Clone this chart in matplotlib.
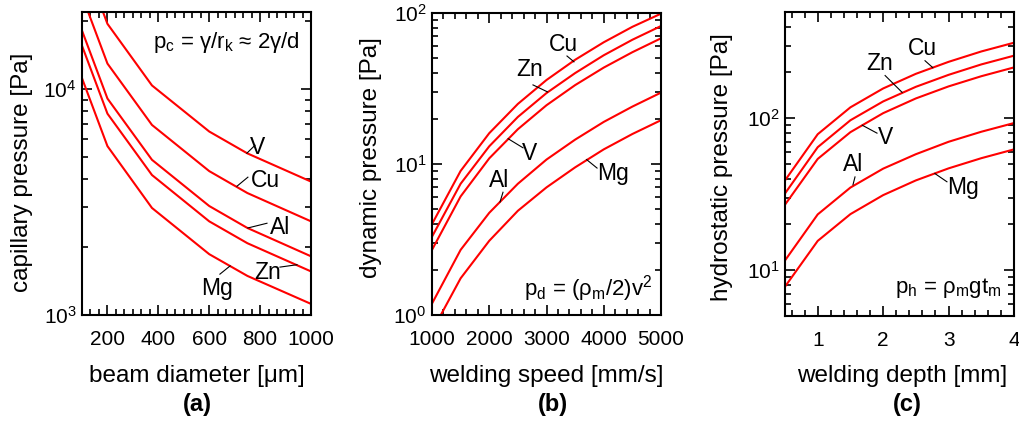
import numpy as np
import matplotlib.pyplot as plt
from matplotlib.ticker import MultipleLocator, NullFormatter, LogLocator

plt.rcParams['font.family'] = ['Liberation Sans', 'DejaVu Sans']
plt.rcParams['mathtext.fontset'] = 'custom'
plt.rcParams['mathtext.rm'] = 'Liberation Sans'

# (a) capillary pressure vs beam diameter
diam = [100, 200, 375, 600, 750, 1000]
cap_V = [39000, 19500, 10400, 6500, 5200, 3900]
cap_Cu = [26000, 13000, 6950, 4340, 3470, 2600]
cap_Al = [18200, 9100, 4870, 3040, 2430, 1820]
cap_Zn = [15600, 7800, 4170, 2600, 2080, 1560]
cap_Mg = [11200, 5600, 2980, 1860, 1490, 1120]

# (b) dynamic pressure vs welding speed
speed = [1000, 1500, 2000, 2500, 3000, 3500, 4000, 4500, 5000]
dyn_Cu = [4.0, 9.0, 16.0, 25.0, 36.0, 49.0, 64.0, 81.0, 99.0]
dyn_Zn = [3.3, 7.4, 13.1, 20.5, 29.5, 40.0, 52.5, 66.5, 82.0]
dyn_V = [2.7, 6.1, 10.9, 17.0, 24.5, 33.3, 43.5, 55.0, 68.0]
dyn_Al = [1.19, 2.7, 4.75, 7.4, 10.7, 14.5, 19.0, 24.0, 29.7]
dyn_Mg = [0.78, 1.75, 3.1, 4.9, 7.0, 9.5, 12.5, 15.8, 19.5]

# (c) hydrostatic pressure vs welding depth
depth = [0.5, 1.0, 1.5, 2.0, 2.5, 3.0, 3.5, 4.0]
hyd_Cu = [39, 78.5, 118, 157, 196, 235, 275, 314]
hyd_Zn = [32, 64.5, 97, 129, 161, 193, 226, 258]
hyd_V = [27, 54, 81, 108, 135, 162, 189, 216]
hyd_Al = [11.6, 23.3, 35, 46.6, 58, 70, 81.5, 93]
hyd_Mg = [7.8, 15.6, 23.4, 31.2, 39, 46.8, 54.6, 62.4]

fig = plt.figure(figsize=(10.19, 4.34), dpi=100)
ax1 = fig.add_axes([82/1019, 119/434, 229/1019, 303/434])
ax2 = fig.add_axes([432/1019, 119/434, 229/1019, 302/434])
ax3 = fig.add_axes([785/1019, 118/434, 229/1019, 304/434])

red = '#ff0000'
for y in [cap_V, cap_Cu, cap_Al, cap_Zn, cap_Mg]:
    ax1.plot(diam, y, color=red, lw=1.5)
for y in [dyn_Cu, dyn_Zn, dyn_V, dyn_Al, dyn_Mg]:
    ax2.plot(speed, y, color=red, lw=1.5)
for y in [hyd_Cu, hyd_Zn, hyd_V, hyd_Al, hyd_Mg]:
    ax3.plot(depth, y, color=red, lw=1.5)

ax1.set_yscale('log')
ax2.set_yscale('log')
ax3.set_yscale('log')
ax1.set_xlim(100, 1000)
ax1.set_ylim(1000, 22000)
ax2.set_xlim(1000, 5000)
ax2.set_ylim(1, 100)
ax3.set_xlim(0.5, 4)
ax3.set_ylim(5, 500)

ax1.xaxis.set_major_locator(MultipleLocator(200))
ax1.xaxis.set_minor_locator(MultipleLocator(200/6))
ax2.xaxis.set_major_locator(MultipleLocator(1000))
ax2.xaxis.set_minor_locator(MultipleLocator(200))
ax3.xaxis.set_major_locator(MultipleLocator(1))
ax3.xaxis.set_minor_locator(MultipleLocator(0.2))

for ax in [ax1, ax2, ax3]:
    ax.yaxis.set_minor_locator(LogLocator(subs=np.arange(2, 10)))
    ax.yaxis.set_minor_formatter(NullFormatter())
    ax.tick_params(which='both', direction='in', top=True, right=True,
                   labelsize=15, width=1.2)
    ax.tick_params(which='major', length=7, pad=11)
    ax.tick_params(which='minor', length=4)
    ax.tick_params(axis='y', pad=4)
    for s in ax.spines.values():
        s.set_linewidth(1.5)

ax1.set_xlabel('beam diameter [\u03bcm]', fontsize=17.5)
ax1.set_ylabel('capillary pressure [Pa]', fontsize=17.5)
ax2.set_xlabel('welding speed [mm/s]', fontsize=17.5)
ax2.set_ylabel('dynamic pressure [Pa]', fontsize=17.5)
ax3.set_xlabel('welding depth [mm]', fontsize=17.5)
ax3.set_ylabel('hydrostatic pressure [Pa]', fontsize=17.5)
ax1.xaxis.set_label_coords(0.5, -0.166)
ax2.xaxis.set_label_coords(0.5, -0.167)
ax3.xaxis.set_label_coords(0.51, -0.162)
ax1.yaxis.set_label_coords(-0.214, 0.472)
ax2.yaxis.set_label_coords(-0.218, 0.52)
ax3.yaxis.set_label_coords(-0.227, 0.49)

def tag(ax, name, txt, line_end, line_start):
    ax.text(txt[0], txt[1], name, fontsize=16.5, ha='center', va='center')
    ax.plot([line_start[0], line_end[0]], [line_start[1], line_end[1]],
            color='k', lw=0.8)

tag(ax1, 'V', (788, 5530), (748, 5210), (780, 5650))
tag(ax1, 'Cu', (819, 3950), (709, 3720), (752, 4080))
tag(ax1, 'Al', (878, 2450), (752, 2430), (827, 2550))
tag(ax1, 'Zn', (831, 1550), (945, 1670), (878, 1630))
tag(ax1, 'Mg', (631, 1316), (682, 1650), (642, 1517))

tag(ax2, 'Cu', (3289, 61.4), (3480, 47.5), (3358, 51.9))
tag(ax2, 'Zn', (2712, 42.0), (3020, 30.0), (2764, 33.4))
tag(ax2, 'V', (2712, 11.8), (2330, 14.7), (2590, 12.8))
tag(ax2, 'Al', (2170, 7.83), (2188, 5.6), (2240, 6.5))
tag(ax2, 'Mg', (4162, 8.7), (3700, 10.7), (3883, 9.4))

tag(ax3, 'Cu', (2.593, 287), (2.76, 215), (2.64, 239))
tag(ax3, 'Zn', (1.95, 229), (2.29, 148), (2.03, 191))
tag(ax3, 'V', (2.03, 75.2), (1.68, 90), (1.906, 79.8))
tag(ax3, 'Al', (1.539, 49.3), (1.539, 36.5), (1.57, 41.1))
tag(ax3, 'Mg', (3.22, 34.8), (2.79, 43.3), (2.975, 38.2))

ax1.text(0.63, 0.898, 'p$_\\mathregular{c}$ = \u03b3/r$_\\mathregular{k}$ \u2248 2\u03b3/d',
         transform=ax1.transAxes, fontsize=16, ha='center', va='center')
ax2.text(0.681, 0.089, 'p$_\\mathregular{d}$ = (\u03c1$_\\mathregular{m}$/2)v$^\\mathregular{2}$',
         transform=ax2.transAxes, fontsize=16, ha='center', va='center')
ax3.text(0.712, 0.092, 'p$_\\mathregular{h}$ = \u03c1$_\\mathregular{m}$gt$_\\mathregular{m}$',
         transform=ax3.transAxes, fontsize=16, ha='center', va='center')

fig.text(197/1019, 1 - 405/434, '(a)', fontsize=17, fontweight='bold', ha='center', va='center')
fig.text(553/1019, 1 - 405/434, '(b)', fontsize=17, fontweight='bold', ha='center', va='center')
fig.text(907/1019, 1 - 405/434, '(c)', fontsize=17, fontweight='bold', ha='center', va='center')

fig.savefig('out.png', dpi=100)
